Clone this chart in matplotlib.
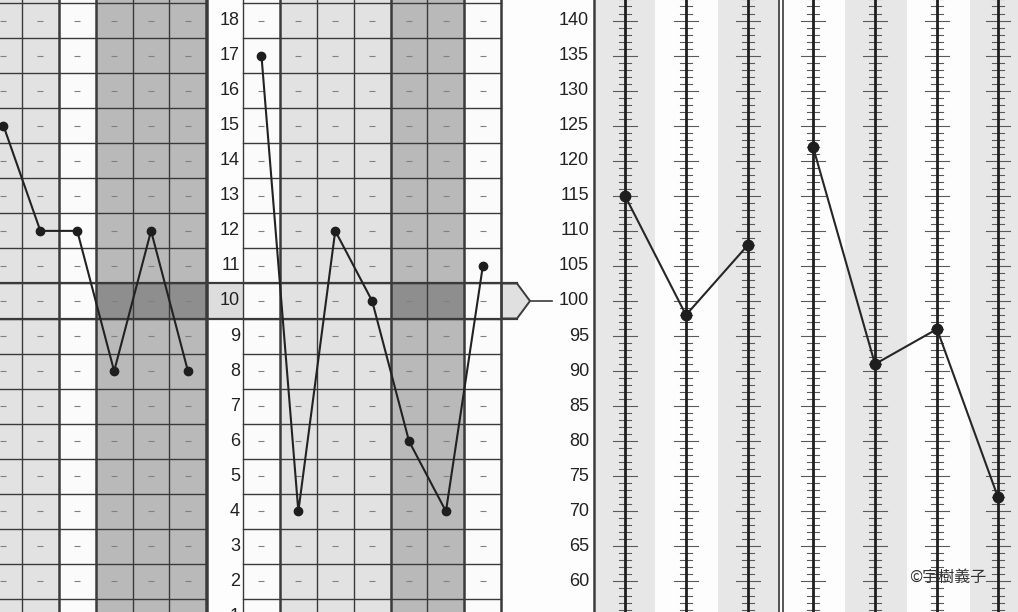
import matplotlib.pyplot as plt
from matplotlib.patches import Rectangle, Polygon

plt.rcParams['font.family'] = ['Liberation Sans', 'DejaVu Sans']

# Data
left_scores = [15, 12, 12, 8, 12, 8]        # scaled scores, left block
mid_scores = [17, 4, 12, 10, 6, 4, 11]      # scaled scores, middle block
comp_a = [115, 98, 108]                     # composite scores, first group
comp_b = [122, 91, 96, 72]                  # composite scores, second group
score_labels = list(range(1, 19))
comp_labels = list(range(60, 145, 5))

# Layout (x in pixels, y in scaled-score units)
col_w = 36.9
left_x0 = -15.0
label_x0, label_x1 = 207.0, 243.0
mid_x0 = 243.0
left_shade = ['#e2e2e2', '#e2e2e2', '#fbfbfb', '#b9b9b9', '#b9b9b9', '#b9b9b9']
mid_shade = ['#fbfbfb', '#e2e2e2', '#e2e2e2', '#e2e2e2', '#b9b9b9', '#b9b9b9', '#fbfbfb']
grpA_x = [625, 686, 748]
grpB_x = [813, 875, 937, 998]
px_per_unit = 35.06
y_bot = 10 - (612 - 301) / px_per_unit
y_top = 10 + 301 / px_per_unit


def comp_to_ss(c):
    return 10 + (c - 100) / 5.0


fig = plt.figure(figsize=(10.18, 6.12), dpi=100)
ax = fig.add_axes([0, 0, 1, 1])
ax.set_xlim(0, 1018)
ax.set_ylim(y_bot, y_top)
ax.axis('off')
fig.patch.set_facecolor('#fdfdfd')

line_c = '#3a3a3a'
H = y_top - y_bot


def draw_block(x0, shades, scores):
    n = len(shades)
    for i, col in enumerate(shades):
        ax.add_patch(Rectangle((x0 + i * col_w, y_bot), col_w, H, fc=col, ec='none', zorder=0))
        if col == '#b9b9b9':
            ax.add_patch(Rectangle((x0 + i * col_w, 9.5), col_w, 1, fc='#8e8e8e', ec='none', zorder=0.5))
    for k in range(0, 19):
        ax.plot([x0, x0 + n * col_w], [k + 0.5, k + 0.5], color=line_c, lw=1.0, zorder=1)
    for i in range(n + 1):
        lw = 1.0
        if i == n or (i > 0 and shades[i - 1] != shades[min(i, n - 1)]):
            lw = 1.8
        ax.plot([x0 + i * col_w] * 2, [y_bot, y_top], color=line_c, lw=lw, zorder=1)
    centers = [x0 + (i + 0.5) * col_w for i in range(n)]
    for cx in centers:
        ax.plot([cx] * 19, list(range(1, 20)), ls='none', marker='_', ms=5, mew=0.8,
                color='#808080', zorder=1.5)
    ax.plot(centers, scores, color='#222222', lw=1.5, zorder=3)
    ax.plot(centers, scores, ls='none', marker='o', ms=6, color='#1e1e1e', zorder=4)


# label column and row-10 band with pointer
ax.add_patch(Rectangle((label_x0, 9.5), label_x1 - label_x0, 1, fc='#dddddd', ec='none', zorder=0.5))
tip_x = 530
ax.add_patch(Polygon([(501.5, 9.5), (517, 9.5), (tip_x, 10), (517, 10.5), (501.5, 10.5)],
                     closed=True, fc='#e0e0e0', ec=line_c, lw=1.4, zorder=1))
ax.plot([tip_x, 552], [10, 10], color=line_c, lw=1.2, zorder=1)

draw_block(left_x0, left_shade, left_scores)
draw_block(mid_x0, mid_shade, mid_scores)
ax.plot([label_x0, label_x0], [y_bot, y_top], color=line_c, lw=1.8, zorder=1)
for yb in (9.5, 10.5):
    ax.plot([0, 517], [yb, yb], color=line_c, lw=1.6, zorder=2)

for s in score_labels:
    ax.text(240, s, str(s), ha='right', va='center', fontsize=13, color='#222222')
for c in comp_labels:
    ax.text(589, comp_to_ss(c), str(c), ha='right', va='center', fontsize=13, color='#222222')

# composite panel: stripes, frames, scales
stripes = [(596, 655), (718, 780), (845, 907), (970, 1020)]
for a, b in stripes:
    ax.add_patch(Rectangle((a, y_bot), b - a, H, fc='#e7e7e7', ec='none', zorder=0))
for fx, lw in [(594, 1.8), (779, 1.2), (783, 1.2)]:
    ax.plot([fx, fx], [y_bot, y_top], color=line_c, lw=lw, zorder=1)

for gx in grpA_x + grpB_x:
    ax.plot([gx, gx], [y_bot, y_top], color='#1e1e1e', lw=2.0, zorder=2)
    for c in range(40, 151):
        hw = 12 if c % 5 == 0 else 6
        ax.plot([gx - hw, gx + hw], [comp_to_ss(c)] * 2, color='#5a5a5a', lw=0.8, zorder=1.5)

for xs, vals in [(grpA_x, comp_a), (grpB_x, comp_b)]:
    ys = [comp_to_ss(v) for v in vals]
    ax.plot(xs, ys, color='#262626', lw=1.5, zorder=3)
    ax.plot(xs, ys, ls='none', marker='o', ms=7.5, color='#1e1e1e', zorder=4)

ax.text(948, 10 - 276 / px_per_unit, '©宇樹義子', ha='center', va='center', fontsize=11.5,
        color='#333333', family=['Noto Sans CJK JP', 'DejaVu Sans'], zorder=5)

fig.savefig('out.png', dpi=100)
